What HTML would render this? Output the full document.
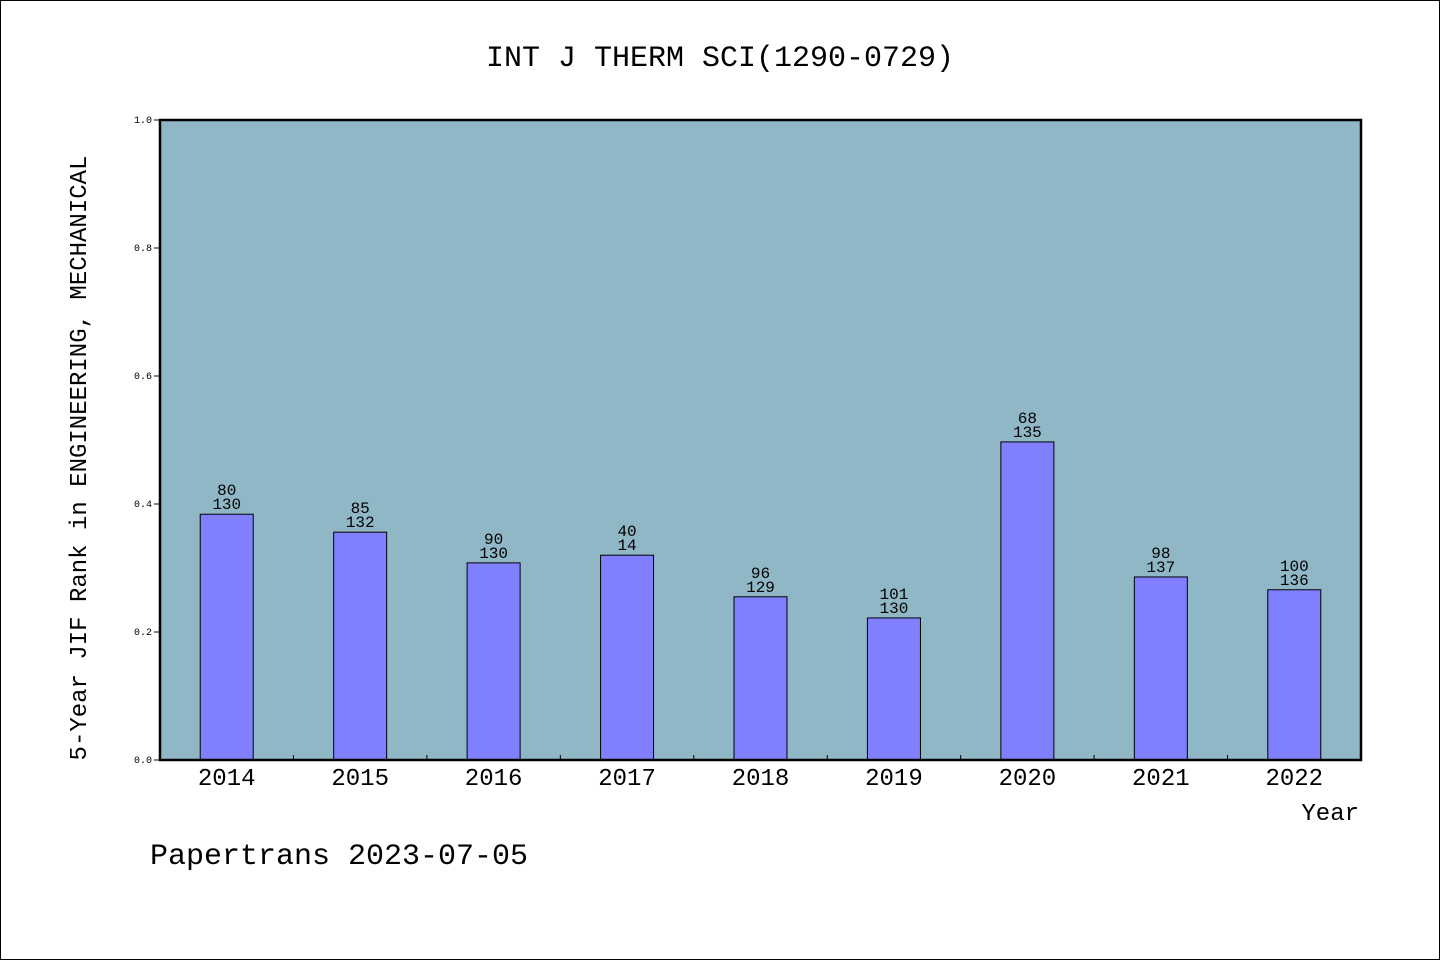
<!DOCTYPE html>
<html><head><meta charset="utf-8"><style>
html,body{margin:0;padding:0;background:#fff;}
svg{display:block;}
text{font-family:"WenQuanYi Zen Hei","Liberation Mono",monospace;fill:#000;}
</style></head><body>
<svg id="chart" width="1440" height="960">
<rect x="0.5" y="0.5" width="1439" height="959" fill="#fff" stroke="#000"/>
<text x="720" y="66" font-size="30" text-anchor="middle">INT J THERM SCI(1290-0729)</text>
<rect x="160" y="120" width="1201" height="640" fill="#8fb7c6"/>
<g id="bars"></g>
<rect x="160" y="120" width="1201" height="640" fill="none" stroke="#000" stroke-width="2.5"/>
<g id="axes"></g>
<text transform="translate(86,458) rotate(-90)" font-size="24" text-anchor="middle">5-Year JIF Rank in ENGINEERING, MECHANICAL</text>
<text x="1359" y="820" font-size="24" text-anchor="end">Year</text>
<text x="150" y="864" font-size="30">Papertrans 2023-07-05</text>
</svg>
<script>
const years = ["2014","2015","2016","2017","2018","2019","2020","2021","2022"];
const values = [0.384,0.356,0.308,0.320,0.255,0.222,0.497,0.286,0.266];
const ranks = ["80","85","90","40","96","101","68","98","100"];
const totals = ["130","132","130","14","129","130","135","137","136"];
const yTicks = [0,0.2,0.4,0.6,0.8,1.0];
const yTickLabels = ["0.0","0.2","0.4","0.6","0.8","1.0"];
const NS="http://www.w3.org/2000/svg";
const X0=160,X1=1361,Y0=760,Y1=120;
const band=(X1-X0)/years.length;
const xC=i=>X0+band*(i+0.5);
const yS=v=>Y0-(Y0-Y1)*v;
function mk(t,a){const e=document.createElementNS(NS,t);for(const k in a)e.setAttribute(k,a[k]);return e;}
const bars=document.getElementById('bars'),axes=document.getElementById('axes');
years.forEach((y,i)=>{
  const top=yS(values[i]);
  const r=mk('rect',{x:xC(i)-26.5,y:top,width:53,height:Y0-top,fill:'#8080ff',stroke:'#000','stroke-width':1});
  
  
  bars.appendChild(r);
  const t1=mk('text',{x:xC(i),y:top-19,'font-size':16,'text-anchor':'middle'});t1.textContent=ranks[i];
  
  
  bars.appendChild(t1);
  const t2=mk('text',{x:xC(i),y:top-5,'font-size':16,'text-anchor':'middle'});t2.textContent=totals[i];
  
  
  bars.appendChild(t2);
  const xl=mk('text',{x:xC(i),y:785,'font-size':24,'text-anchor':'middle'});xl.textContent=y;
  
  
  axes.appendChild(xl);
  if(i>0){const tk=mk('line',{x1:X0+band*i,x2:X0+band*i,y1:Y0,y2:Y0-5,stroke:'#000'});
  
  
  axes.appendChild(tk);}
});
yTicks.forEach((v,i)=>{
  const tk=mk('line',{x1:X0-6,x2:X0,y1:yS(v),y2:yS(v),stroke:'#000'});
  
  
  axes.appendChild(tk);
  const l=mk('text',{x:152,y:yS(v)+3,'font-size':10,'text-anchor':'end'});l.textContent=yTickLabels[i];
  
  
  axes.appendChild(l);
});
</script>
</body></html>
